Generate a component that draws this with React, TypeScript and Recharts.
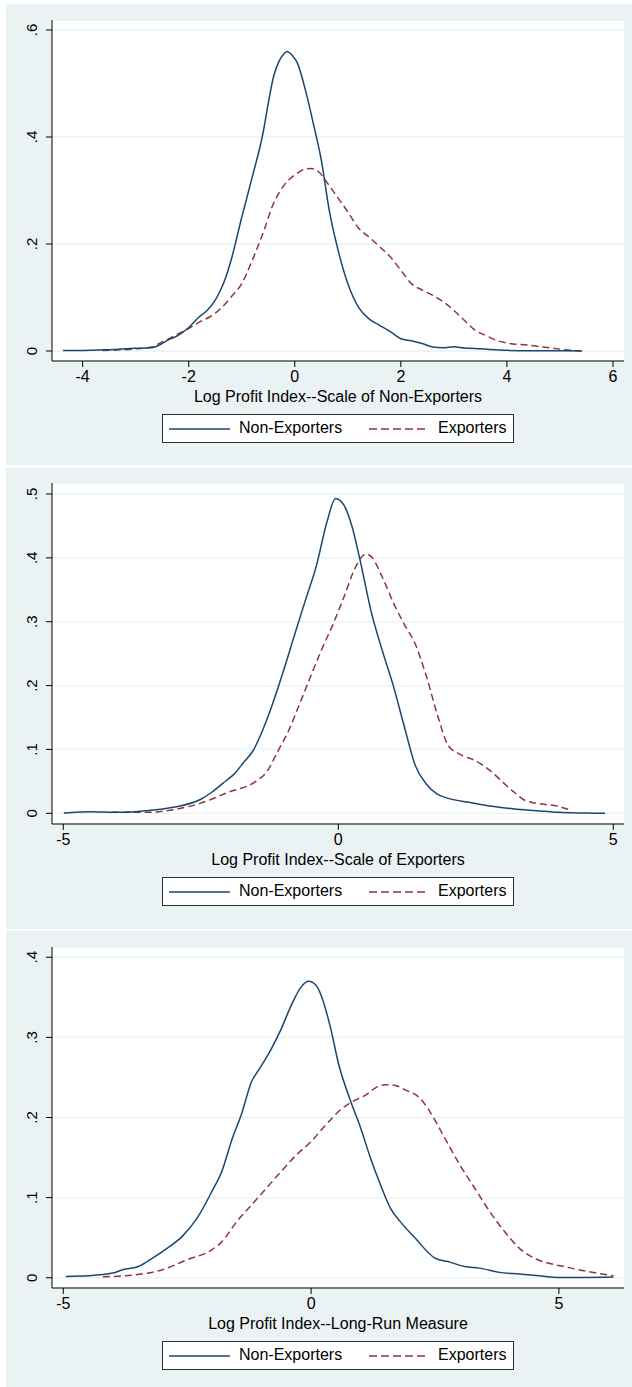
import { LineChart, Line, XAxis, YAxis, CartesianGrid } from "recharts";

const BLUE = "#1a476f";
const RED = "#90353b";
const BG = "#eaf2f3";
const FONT = "'Liberation Sans', Arial, Helvetica, sans-serif";

// Panel 1 - scale of non-exporters
const p1NonX = [-4.37, -4.0, -3.5, -3.0, -2.7, -2.6, -2.4, -2.2, -2.0, -1.8, -1.65, -1.5, -1.4, -1.3, -1.2, -1.0, -0.8, -0.6, -0.5, -0.4, -0.3, -0.2, -0.15, -0.05, 0.05, 0.2, 0.35, 0.5, 0.65, 0.8, 1.0, 1.2, 1.4, 1.6, 1.8, 2.0, 2.2, 2.4, 2.6, 2.8, 3.0, 3.2, 3.5, 4.0, 4.5, 5.0, 5.4];
const p1NonY = [0.001, 0.001, 0.0025, 0.005, 0.006, 0.009, 0.02, 0.029, 0.044, 0.064, 0.076, 0.095, 0.114, 0.138, 0.17, 0.25, 0.326, 0.407, 0.463, 0.513, 0.541, 0.556, 0.56, 0.553, 0.538, 0.488, 0.425, 0.357, 0.263, 0.195, 0.126, 0.082, 0.06, 0.048, 0.036, 0.023, 0.019, 0.014, 0.0075, 0.006, 0.008, 0.0056, 0.004, 0.0012, 0.0006, 0.0005, 0.0];
const p1ExpX = [-3.62, -3.0, -2.7, -2.5, -2.2, -2.0, -1.8, -1.6, -1.4, -1.2, -1.0, -0.8, -0.6, -0.4, -0.2, 0.0, 0.2, 0.3, 0.45, 0.6, 0.8, 1.0, 1.2, 1.4, 1.6, 1.8, 2.0, 2.2, 2.4, 2.6, 2.8, 3.0, 3.2, 3.4, 3.6, 3.8, 4.0, 4.4, 4.8, 5.1, 5.45];
const p1ExpY = [0.001, 0.004, 0.0075, 0.017, 0.032, 0.042, 0.054, 0.064, 0.079, 0.101, 0.126, 0.17, 0.22, 0.276, 0.31, 0.329, 0.34, 0.341, 0.335, 0.316, 0.288, 0.26, 0.23, 0.213, 0.195, 0.176, 0.151, 0.126, 0.114, 0.104, 0.092, 0.076, 0.057, 0.039, 0.029, 0.02, 0.015, 0.011, 0.006, 0.0025, 0.0];
const p1XTicks = [-4, -2, 0, 2, 4, 6];
const p1YTicks = [0, 0.2, 0.4, 0.6];

// Panel 2 - scale of exporters
const p2NonX = [-4.99, -4.5, -4.0, -3.5, -3.0, -2.5, -2.3, -2.1, -1.9, -1.7, -1.55, -1.4, -1.2, -1.0, -0.8, -0.6, -0.4, -0.2, -0.05, 0.1, 0.25, 0.4, 0.6, 0.8, 1.0, 1.2, 1.4, 1.6, 1.8, 2.0, 2.4, 2.8, 3.2, 3.6, 4.0, 4.5, 4.85];
const p2NonY = [0.0005, 0.0026, 0.0016, 0.004, 0.0094, 0.022, 0.033, 0.047, 0.061, 0.082, 0.098, 0.125, 0.17, 0.222, 0.278, 0.333, 0.387, 0.458, 0.493, 0.483, 0.449, 0.395, 0.315, 0.255, 0.2, 0.136, 0.075, 0.046, 0.03, 0.0234, 0.017, 0.011, 0.0068, 0.0042, 0.0016, 0.0005, 0.0];
const p2ExpX = [-4.12, -3.5, -3.0, -2.5, -2.0, -1.5, -1.3, -1.1, -0.9, -0.7, -0.5, -0.3, -0.1, 0.1, 0.3, 0.5, 0.6, 0.8, 1.0, 1.2, 1.4, 1.6, 1.8, 2.0, 2.2, 2.5, 2.8, 3.0, 3.2, 3.4, 3.7, 4.0, 4.2];
const p2ExpY = [0.0016, 0.0016, 0.0057, 0.016, 0.033, 0.05, 0.065, 0.097, 0.13, 0.172, 0.215, 0.257, 0.295, 0.338, 0.383, 0.406, 0.402, 0.37, 0.33, 0.296, 0.265, 0.215, 0.155, 0.106, 0.093, 0.082, 0.064, 0.048, 0.033, 0.02, 0.0146, 0.011, 0.0057];
const p2XTicks = [-5, 0, 5];
const p2YTicks = [0, 0.1, 0.2, 0.3, 0.4, 0.5];

// Panel 3 - long-run measure
const p3NonX = [-4.95, -4.5, -4.0, -3.8, -3.5, -3.2, -2.9, -2.6, -2.3, -2.0, -1.8, -1.6, -1.4, -1.2, -1.05, -0.8, -0.6, -0.4, -0.2, -0.05, 0.1, 0.2, 0.4, 0.55, 0.8, 1.0, 1.2, 1.4, 1.6, 1.8, 2.1, 2.5, 2.8, 3.1, 3.4, 3.8, 4.2, 4.6, 5.0, 5.5, 6.1];
const p3NonY = [0.0017, 0.0025, 0.0058, 0.01, 0.0137, 0.0245, 0.037, 0.0516, 0.0744, 0.108, 0.133, 0.172, 0.205, 0.245, 0.26, 0.286, 0.311, 0.34, 0.363, 0.37, 0.365, 0.353, 0.31, 0.268, 0.22, 0.187, 0.149, 0.116, 0.087, 0.07, 0.0495, 0.0245, 0.0195, 0.014, 0.012, 0.0067, 0.0046, 0.0025, 0.0004, 0.0004, 0.0008];
const p3ExpX = [-4.2, -3.6, -3.0, -2.5, -2.0, -1.8, -1.5, -1.2, -0.9, -0.6, -0.3, 0.0, 0.3, 0.6, 0.9, 1.1, 1.3, 1.5, 1.7, 1.9, 2.2, 2.4, 2.7, 3.0, 3.3, 3.6, 3.9, 4.2, 4.5, 4.8, 5.1, 5.5, 6.1];
const p3ExpY = [0.0012, 0.0033, 0.01, 0.0225, 0.035, 0.045, 0.07, 0.091, 0.112, 0.133, 0.153, 0.17, 0.191, 0.21, 0.222, 0.228, 0.237, 0.241, 0.24, 0.2345, 0.224, 0.207, 0.174, 0.141, 0.112, 0.083, 0.058, 0.037, 0.0245, 0.018, 0.014, 0.0087, 0.0025];
const p3XTicks = [-5, 0, 5];
const p3YTicks = [0, 0.1, 0.2, 0.3, 0.4];

const zip = (xs: number[], ys: number[]) => xs.map((x, i) => ({ x, y: ys[i] }));
const fmtY = (v: number) => (v === 0 ? "0" : String(v).replace(/^0\./, "."));

const YTick = ({ x, y, payload }: any) => (
    <text
        x={x}
        y={y}
        transform={`rotate(-90, ${x}, ${y})`}
        textAnchor="middle"
        fontSize={15}
        fontFamily={FONT}
        fill="#000"
    >
        {fmtY(payload.value)}
    </text>
);

const LegendBox = ({ top }: { top: number }) => (
    <div
        style={{
            position: "absolute",
            left: 162,
            top,
            width: 350,
            height: 27,
            background: "#fff",
            border: "1px solid #2e2e2e",
            fontFamily: FONT,
            fontSize: 16,
            color: "#000",
        }}
    >
        <svg style={{ position: "absolute", left: 6, top: 12 }} width={61} height={4}>
            <line x1={0} y1={2} x2={61} y2={2} stroke={BLUE} strokeWidth={1.6} />
        </svg>
        <span style={{ position: "absolute", left: 76, top: 4, lineHeight: "18px" }}>Non-Exporters</span>
        <svg style={{ position: "absolute", left: 206, top: 12 }} width={60} height={4}>
            <line x1={0} y1={2} x2={60} y2={2} stroke={RED} strokeWidth={1.6} strokeDasharray="8 4" />
        </svg>
        <span style={{ position: "absolute", left: 275, top: 4, lineHeight: "18px" }}>Exporters</span>
    </div>
);

type PanelProps = {
    bgTop: number;
    bgHeight: number;
    chartTop: number;
    title: string;
    nonX: number[];
    nonY: number[];
    expX: number[];
    expY: number[];
    xDomain: [number, number];
    yDomain: [number, number];
    xTicks: number[];
    yTicks: number[];
};

const Panel = (p: PanelProps) => (
    <>
        <div style={{ position: "absolute", left: 6, top: p.bgTop, width: 626, height: p.bgHeight, background: BG }} />
        <div style={{ position: "absolute", left: 0, top: p.chartTop }}>
            <LineChart width={632} height={412} margin={{ top: 20, right: 8, bottom: 10, left: 0 }}>
                <CartesianGrid vertical={false} stroke={BG} strokeWidth={1.3} fill="#ffffff" />
                <XAxis
                    dataKey="x"
                    type="number"
                    domain={p.xDomain}
                    ticks={p.xTicks}
                    allowDataOverflow
                    height={41}
                    stroke="#000"
                    tickSize={6}
                    tickMargin={4}
                    tick={{ fill: "#000", fontSize: 16, fontFamily: FONT }}
                    label={{ value: p.title, position: "insideBottom", offset: 0, fill: "#000", fontSize: 16, fontFamily: FONT }}
                />
                <YAxis
                    type="number"
                    domain={p.yDomain}
                    ticks={p.yTicks}
                    allowDataOverflow
                    width={52}
                    stroke="#000"
                    tickSize={6}
                    tickMargin={9}
                    tick={<YTick />}
                />
                <Line data={zip(p.expX, p.expY)} dataKey="y" type="monotone" stroke={RED} strokeWidth={1.5} strokeDasharray="7 4" dot={false} isAnimationActive={false} />
                <Line data={zip(p.nonX, p.nonY)} dataKey="y" type="monotone" stroke={BLUE} strokeWidth={1.5} dot={false} isAnimationActive={false} />
            </LineChart>
        </div>
        <LegendBox top={p.chartTop + 414} />
    </>
);

export default function App() {
    return (
        <div style={{ position: "absolute", left: 0, top: 0, width: 632, height: 1387, background: "#fff", overflow: "hidden" }}>
            <Panel
                bgTop={4} bgHeight={461} chartTop={0}
                title="Log Profit Index--Scale of Non-Exporters"
                nonX={p1NonX} nonY={p1NonY} expX={p1ExpX} expY={p1ExpY}
                xDomain={[-4.578, 6.208]} yDomain={[-0.0187, 0.6187]}
                xTicks={p1XTicks} yTicks={p1YTicks}
            />
            <Panel
                bgTop={468} bgHeight={461} chartTop={463}
                title="Log Profit Index--Scale of Exporters"
                nonX={p2NonX} nonY={p2NonY} expX={p2ExpX} expY={p2ExpY}
                xDomain={[-5.205, 5.195]} yDomain={[-0.0167, 0.5172]}
                xTicks={p2XTicks} yTicks={p2YTicks}
            />
            <Panel
                bgTop={931} bgHeight={456} chartTop={927}
                title="Log Profit Index--Long-Run Measure"
                nonX={p3NonX} nonY={p3NonY} expX={p3ExpX} expY={p3ExpY}
                xDomain={[-5.228, 6.314]} yDomain={[-0.0128, 0.4128]}
                xTicks={p3XTicks} yTicks={p3YTicks}
            />
        </div>
    );
}
